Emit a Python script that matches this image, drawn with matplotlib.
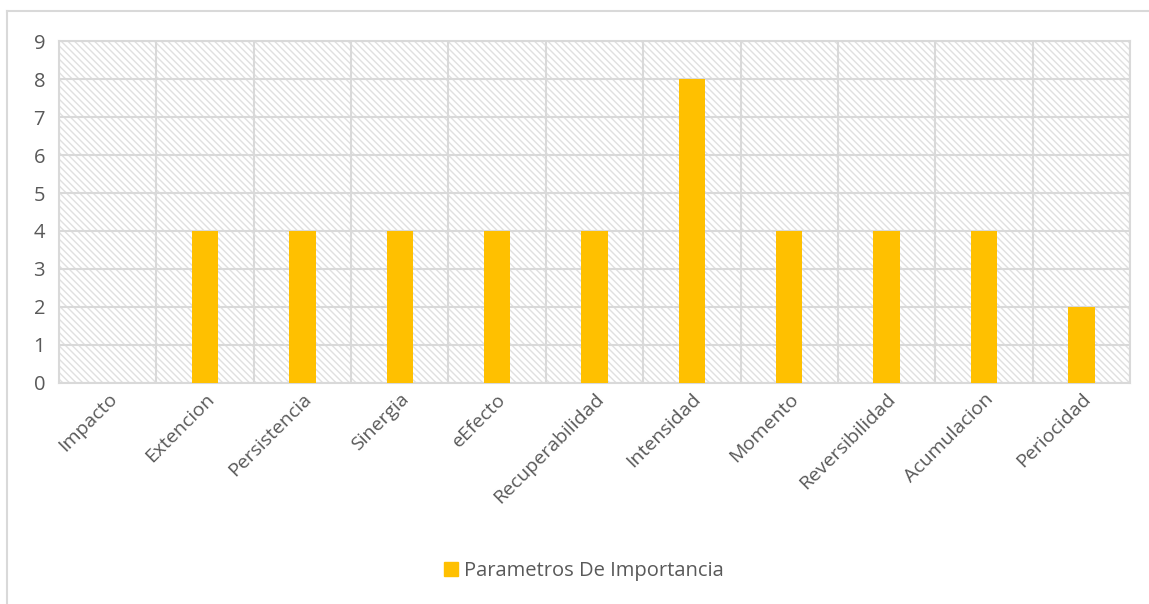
import numpy as np
import matplotlib.pyplot as plt
from matplotlib.patches import Rectangle, Patch
from matplotlib.lines import Line2D

categorias = ['Impacto', 'Extencion', 'Persistencia', 'Sinergia', 'eEfecto',
              'Recuperabilidad', 'Intensidad', 'Momento', 'Reversibilidad',
              'Acumulacion', 'Periocidad']
valores = [0, 4, 4, 4, 4, 4, 8, 4, 4, 4, 2]
serie = 'Parametros De Importancia'

plt.rcParams['font.family'] = ['Open Sans', 'DejaVu Sans']
plt.rcParams['hatch.color'] = '#e0e0e0'
plt.rcParams['hatch.linewidth'] = 1.0

fig = plt.figure(figsize=(11.49, 6.04), dpi=100)
ax = fig.add_axes([0.0513, 0.366, 0.9322, 0.566])

# marco exterior del grafico (solo arriba e izquierda)
top = 1 - 11 / 604
left = 7 / 1149
fig.lines.append(Line2D([left, 1], [top, top], transform=fig.transFigure,
                        color='#d9d9d9', linewidth=1.5))
fig.lines.append(Line2D([left, left], [0, top], transform=fig.transFigure,
                        color='#d9d9d9', linewidth=1.5))

x = np.arange(len(categorias))
ax.add_patch(Rectangle((0, 0), 1, 1, transform=ax.transAxes, facecolor='white',
                       edgecolor='#e0e0e0', hatch='\\\\\\\\\\', linewidth=0, zorder=0))
ax.bar(x, valores, width=0.27, color='#FFC000', zorder=3, label=serie)

ax.set_xlim(-0.5, len(categorias) - 0.5)
ax.set_ylim(0, 9)
ax.set_yticks(range(10))
ax.set_xticks(x)
ax.set_xticklabels(categorias, rotation=45, ha='right', rotation_mode='anchor')
ax.tick_params(axis='x', length=0, labelsize=14, colors='#595959', pad=5)
ax.tick_params(axis='y', length=0, labelsize=14.5, colors='#595959', pad=10)
for lbl in ax.get_xticklabels():
    lbl.set_x(lbl.get_position()[0])

for y in range(10):
    ax.axhline(y, color='#d9d9d9', linewidth=1.5, zorder=1)
for b in np.arange(-0.5, len(categorias), 1):
    ax.axvline(b, color='#d9d9d9', linewidth=1.5, zorder=1)
for s in ax.spines.values():
    s.set_color('#d9d9d9')
    s.set_linewidth(1.5)

fig.legend(handles=[Patch(color='#FFC000', label=serie)], loc='center',
           bbox_to_anchor=(0.508, 0.055), frameon=False, fontsize=14.5,
           labelcolor='#595959', handlelength=0.7, handleheight=0.7,
           handletextpad=0.3)

fig.savefig('out.png', dpi=100)
